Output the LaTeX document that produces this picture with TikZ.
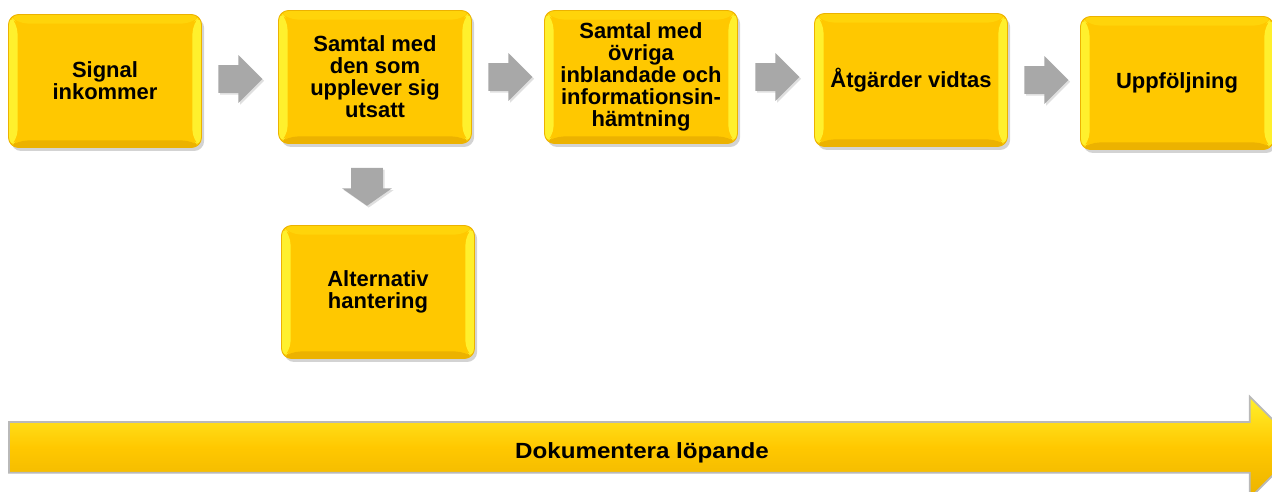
\documentclass[tikz,border=0pt]{standalone}
\usepackage{fontspec}
\usepackage{graphicx}
\setmainfont{Liberation Sans}
\usetikzlibrary{shapes.arrows,shadows,calc}

\definecolor{boxgold}{RGB}{255,200,0}
\definecolor{boxlight}{RGB}{255,240,45}
\definecolor{boxtop}{RGB}{255,212,10}
\definecolor{boxdark}{RGB}{236,178,0}
\definecolor{arrowgray}{RGB}{168,168,168}
\definecolor{arrowedge}{RGB}{185,185,185}

\begin{document}
\begin{tikzpicture}[x=0.02cm,y=-0.02cm]

      \useasboundingbox (0,0) rectangle (1272,492);
      \clip (0,0) rectangle (1272,492);

      \begin{scope}[every node/.style={rectangle,rounded corners=0.2cm,fill=boxgold,
          draw=boxdark,line width=0.5pt,minimum width=3.86cm,minimum height=2.66cm,
          inner sep=2pt,align=center,font=\bfseries\fontsize{12.5}{12.5}\selectfont,
          drop shadow={shadow xshift=1.5pt,shadow yshift=-2pt,opacity=.35},
          path picture={
            \fill[boxtop] (path picture bounding box.north west) -- (path picture bounding box.north east)
              -- ([shift={(-0.18cm,-0.18cm)}]path picture bounding box.north east)
              -- ([shift={(0.18cm,-0.18cm)}]path picture bounding box.north west) -- cycle;
            \fill[boxdark] (path picture bounding box.south west) -- (path picture bounding box.south east)
              -- ([shift={(-0.18cm,0.14cm)}]path picture bounding box.south east)
              -- ([shift={(0.18cm,0.14cm)}]path picture bounding box.south west) -- cycle;
            \fill[boxlight] (path picture bounding box.north west)
              -- ([shift={(0.18cm,-0.18cm)}]path picture bounding box.north west)
              -- ([shift={(0.18cm,0.14cm)}]path picture bounding box.south west)
              -- (path picture bounding box.south west) -- cycle;
            \fill[boxlight] (path picture bounding box.north east)
              -- ([shift={(-0.18cm,-0.18cm)}]path picture bounding box.north east)
              -- ([shift={(-0.18cm,0.14cm)}]path picture bounding box.south east)
              -- (path picture bounding box.south east) -- cycle;
          }}]
        \node (1) at (105,81)  {Signal\\inkommer};
        \node (2) at (375,77)  {Samtal med\\den som\\upplever sig\\utsatt};
        \node (3) at (641,77)  {Samtal med\\övriga\\inblandade och\\informationsin-\\hämtning};
        \node (4) at (911,80)  {Åtgärder vidtas};
        \node (5) at (1177,83) {Uppföljning};
        \node (6) at (378,292) {Alternativ\\hantering};
      \end{scope}

      \begin{scope}[every node/.style={single arrow,fill=arrowgray,draw=none,anchor=tail,
          inner xsep=0pt,inner ysep=0.27cm,minimum height=0.88cm,
          single arrow head extend=0.2cm,
          drop shadow={shadow xshift=1pt,shadow yshift=-1pt,opacity=.25}}]
        \node (a1) at ([xshift=0.32cm,yshift=0.04cm]1.east) {};
        \node (a2) at ([xshift=0.32cm]2.east) {};
        \node (a3) at ([xshift=0.34cm]3.east) {};
        \node (a4) at ([xshift=0.32cm]4.east) {};
        \node[shape border rotate=270,inner xsep=0.31cm,inner ysep=0pt,minimum height=0.76cm,
          single arrow head extend=0.18cm,single arrow tip angle=110]
          (a5) at ([xshift=-0.16cm,yshift=-0.47cm]2.south) {};
      \end{scope}

      \node[single arrow,anchor=tail,inner xsep=0pt,inner ysep=0.49cm,minimum height=25.84cm,
        single arrow head extend=0.51cm,draw=arrowedge,line width=1pt,
        top color=boxlight,bottom color=boxdark,middle color=boxgold] (7) at (8,447.5) {};
      \node[anchor=base,font=\bfseries\fontsize{12.5}{12.5}\selectfont] (8) at (642,459)
        {\scalebox{1.1}[1]{Dokumentera löpande}};

    \end{tikzpicture}
\end{document}
